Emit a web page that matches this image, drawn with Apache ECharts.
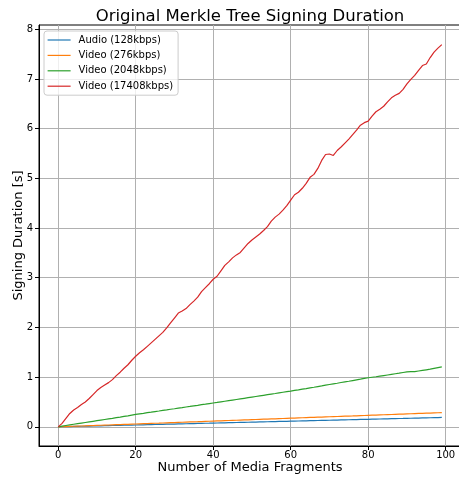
<!DOCTYPE html>
<html>
<head>
<meta charset="utf-8">
<script src="https://cdn.jsdelivr.net/npm/echarts@6/dist/echarts.min.js"></script>
<style>
  html, body { margin: 0; padding: 0; background: #fff; }
  #chart { width: 459px; height: 481px; }
</style>
</head>
<body>
<div id="chart"></div>
<script>
// Number of media fragments signed (x axis)
const fragments = Array.from({ length: 100 }, (_, i) => i);

// Signing duration in seconds per stream bitrate
const audio128 = [
  0.000,0.002,0.004,0.006,0.008,0.010,0.012,0.013,0.015,0.017,
  0.019,0.021,0.023,0.025,0.027,0.029,0.031,0.033,0.035,0.036,
  0.038,0.040,0.042,0.044,0.046,0.048,0.050,0.052,0.054,0.055,
  0.057,0.059,0.061,0.063,0.065,0.067,0.069,0.071,0.073,0.074,
  0.076,0.078,0.080,0.082,0.084,0.086,0.088,0.090,0.092,0.093,
  0.095,0.097,0.099,0.101,0.103,0.105,0.107,0.109,0.111,0.112,
  0.114,0.116,0.118,0.120,0.122,0.124,0.126,0.128,0.130,0.131,
  0.133,0.135,0.137,0.139,0.141,0.143,0.145,0.147,0.149,0.150,
  0.152,0.154,0.156,0.158,0.160,0.162,0.164,0.166,0.168,0.169,
  0.171,0.173,0.175,0.177,0.179,0.181,0.183,0.185,0.187,0.189
];

const video276 = [
  0.000,0.003,0.006,0.009,0.012,0.015,0.017,0.020,0.023,0.026,
  0.029,0.032,0.035,0.038,0.041,0.044,0.046,0.049,0.052,0.055,
  0.058,0.061,0.064,0.067,0.070,0.073,0.075,0.078,0.081,0.084,
  0.087,0.090,0.093,0.096,0.099,0.102,0.104,0.107,0.110,0.113,
  0.116,0.119,0.122,0.125,0.128,0.131,0.133,0.136,0.139,0.142,
  0.145,0.148,0.151,0.154,0.157,0.160,0.162,0.165,0.168,0.171,
  0.174,0.177,0.180,0.183,0.186,0.189,0.191,0.194,0.197,0.200,
  0.203,0.206,0.209,0.212,0.215,0.218,0.220,0.223,0.226,0.229,
  0.232,0.235,0.238,0.241,0.244,0.247,0.249,0.252,0.255,0.258,
  0.261,0.264,0.267,0.270,0.273,0.276,0.278,0.281,0.284,0.287
];

const video2048 = [
  0.000,0.014,0.027,0.040,0.052,0.064,0.076,0.088,0.100,0.112,
  0.124,0.136,0.148,0.160,0.172,0.185,0.197,0.210,0.222,0.236,
  0.250,0.262,0.273,0.285,0.296,0.308,0.319,0.331,0.342,0.354,
  0.365,0.377,0.388,0.400,0.411,0.423,0.434,0.446,0.457,0.469,
  0.480,0.491,0.503,0.515,0.527,0.539,0.551,0.563,0.575,0.587,
  0.599,0.611,0.623,0.635,0.647,0.659,0.671,0.684,0.696,0.708,
  0.720,0.733,0.745,0.758,0.771,0.785,0.797,0.811,0.824,0.838,
  0.852,0.865,0.878,0.892,0.905,0.918,0.932,0.946,0.960,0.975,
  0.988,0.998,1.008,1.020,1.032,1.044,1.056,1.068,1.080,1.094,
  1.108,1.110,1.112,1.124,1.136,1.148,1.160,1.176,1.192,1.208
];

const video17408 = [
  0.00,0.07,0.17,0.27,0.34,0.39,0.45,0.50,0.57,0.65,
  0.73,0.79,0.84,0.89,0.95,1.03,1.10,1.18,1.25,1.34,
  1.42,1.49,1.55,1.62,1.69,1.76,1.83,1.90,1.99,2.09,
  2.19,2.29,2.33,2.38,2.46,2.53,2.61,2.72,2.80,2.88,
  2.97,3.03,3.14,3.25,3.32,3.40,3.46,3.51,3.60,3.69,
  3.76,3.82,3.88,3.95,4.03,4.14,4.22,4.28,4.36,4.45,
  4.56,4.67,4.72,4.80,4.90,5.02,5.08,5.20,5.36,5.48,
  5.49,5.46,5.56,5.63,5.71,5.79,5.88,5.97,6.07,6.12,
  6.15,6.25,6.34,6.39,6.45,6.54,6.62,6.67,6.71,6.79,
  6.90,6.99,7.07,7.17,7.27,7.30,7.43,7.54,7.62,7.69
];

const seriesNames = ['Audio (128kbps)', 'Video (276kbps)', 'Video (2048kbps)', 'Video (17408kbps)'];
const seriesColors = ['#1f77b4', '#ff7f0e', '#2ca02c', '#d62728'];
const seriesValues = [audio128, video276, video2048, video17408];

const xTicks = [0, 20, 40, 60, 80, 100];
const yTicks = [0, 1, 2, 3, 4, 5, 6, 7, 8];

const FONT = 'DejaVu Sans';
const chart = echarts.init(document.getElementById('chart'), null, { renderer: 'canvas' });

const axisCommon = {
  axisLine: { show: true, onZero: false, lineStyle: { color: '#000', width: 1 } },
  axisTick: { show: true, inside: false, length: 4, lineStyle: { color: '#000', width: 1 } },
  axisLabel: { color: '#000', fontFamily: FONT, fontSize: 10, margin: 6 },
  splitLine: { show: true, lineStyle: { color: '#b0b0b0', width: 1 } },
  nameLocation: 'middle',
  nameMoveOverlap: false,
  nameTextStyle: { color: '#000', fontFamily: FONT, fontSize: 13 }
};

chart.setOption({
  animation: false,
  backgroundColor: '#fff',
  title: {
    text: 'Original Merkle Tree Signing Duration',
    left: 245, top: 3, textAlign: 'center',
    textStyle: { color: '#000', fontFamily: FONT, fontSize: 16.5, fontWeight: 'normal' }
  },
  grid: {
    left: 39, right: -2, top: 25, bottom: 35,
    containLabel: false, outerBoundsMode: 'none',
    show: true, borderColor: '#000', borderWidth: 1, backgroundColor: 'transparent'
  },
  legend: {
    orient: 'vertical', left: 44, top: 31,
    padding: [4, 5, 4, 3], itemGap: 5.4,
    itemWidth: 23, itemHeight: 10,
    backgroundColor: 'rgba(255,255,255,0.8)',
    borderColor: '#cccccc', borderWidth: 1, borderRadius: 3,
    itemStyle: { opacity: 0 },
    lineStyle: { width: 1.2 },
    textStyle: { color: '#000', fontFamily: FONT, fontSize: 10, padding: [0, 0, 0, 3] },
    data: seriesNames
  },
  xAxis: Object.assign({}, axisCommon, {
    type: 'value', min: -4.95, max: 103.95,
    name: 'Number of Media Fragments', nameGap: 15,
    axisTick: Object.assign({}, axisCommon.axisTick, { customValues: xTicks }),
    axisLabel: Object.assign({}, axisCommon.axisLabel, { customValues: xTicks, margin: 4 })
  }),
  yAxis: Object.assign({}, axisCommon, {
    type: 'value', min: -0.385, max: 8.085,
    name: 'Signing Duration [s]', nameGap: 14,
    axisTick: Object.assign({}, axisCommon.axisTick, { customValues: yTicks }),
    axisLabel: Object.assign({}, axisCommon.axisLabel, { customValues: yTicks })
  }),
  series: seriesNames.map((name, k) => ({
    name: name,
    type: 'line',
    symbol: 'none',
    showSymbol: false,
    color: seriesColors[k],
    lineStyle: { color: seriesColors[k], width: 1.2 },
    data: fragments.map((f, i) => [f, seriesValues[k][i]])
  }))
});
</script>
</body>
</html>
